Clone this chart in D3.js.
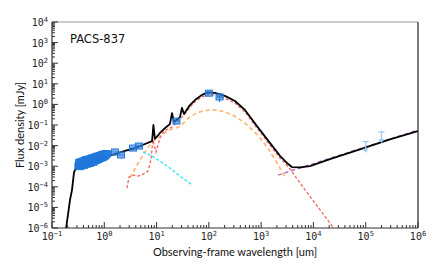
<!DOCTYPE html>
<html><head><meta charset="utf-8">
<script src="https://cdn.jsdelivr.net/npm/d3@7"></script>
<style>body{margin:0;background:#fff}svg{display:block}</style>
</head><body>
<script>
// ---- data (wavelength in um, flux density in mJy) ----
const totalLam = [0.185,0.202,0.221,0.241,0.264,0.288,0.314,0.428,0.664,1.03,1.6,2.49,3.87,6.0,8.2,8.7,9.3,11.6,14.5,18.0,19.7,21.5,28,30.6,33.4,43.5,56.6,73.8,96,131,203,316,490,830,1472,2290,3110,3880,5520,8570,20700,77400,290000,1000000];
const totalF   = [9e-7,4.3e-6,2.3e-5,6.9e-5,5.2e-4,8.1e-4,9.1e-4,1.28e-3,1.8e-3,2.8e-3,3.9e-3,5.5e-3,7.6e-3,0.012,0.0166,0.1,0.021,0.041,0.071,0.11,0.38,0.14,0.24,0.68,0.34,0.93,1.8,2.9,3.8,3.6,2.6,1.46,0.54,0.089,0.0135,3.2e-3,1.44e-3,9.1e-4,8.7e-4,1.0e-3,2.2e-3,6.5e-3,0.02,0.051];

const sfLam = [2.72,2.97,3.54,4.41,5.5,6.85,7.8,8.5,9.75,11.6,13.8,16.5,19.7,23.5,28,34.9,43.5,56.6,73.8,96,131,203,316,490,830,1472,2290,3560,6310,12200,23600,26900];
const sfF   = [8.7e-5,3.0e-4,3.7e-4,3.3e-4,4.1e-4,5.8e-4,2.0e-3,0.0186,4.9e-3,0.0234,0.051,0.064,0.080,0.125,0.195,0.34,0.74,1.46,2.3,3.0,2.9,2.0,1.17,0.43,0.071,0.0107,2.5e-3,7.3e-4,9.8e-5,1.05e-5,1.1e-6,7e-7];

const torusLam = [3.1,4.82,7.48,11.6,18.0,28,43.5,67.6,120,232,537,1290,2850];
const torusF   = [2.7e-4,2.0e-3,0.0107,0.0295,0.0575,0.089,0.245,0.43,0.54,0.38,0.1,0.0085,3.0e-4];

const diskLam = [5.5,7.48,11.6,18.0,28,47.5];
const diskF   = [4.9e-3,3.5e-3,1.8e-3,8.1e-4,3.3e-4,1.23e-4];

const radioLam = [2094,1000000];
const radioF   = [3.7e-4,0.057];

const photLam = [0.32,0.33,0.34,0.35,0.36,0.37,0.38,0.40,0.41,0.43,0.45,0.47,0.49,0.51,0.53,0.56,0.59,0.62,0.65,0.68,0.72,0.76,0.80,0.85,0.90,0.95,1.0,1.05,
                 0.33,0.35,0.37,0.39,0.42,0.44,0.46,0.50,0.54,0.58,0.63,0.67,0.71,0.75,0.82,0.88,0.93,0.98,1.08,
                 1.13,1.6,2.09,3.54,4.6,24,100,160];
const photF   = [1.0e-3,1.2e-3,0.95e-3,1.1e-3,1.3e-3,1.05e-3,1.2e-3,1.25e-3,1.1e-3,1.3e-3,1.4e-3,1.25e-3,1.45e-3,1.5e-3,1.35e-3,1.6e-3,1.7e-3,1.55e-3,1.8e-3,1.9e-3,2.0e-3,2.1e-3,2.3e-3,2.4e-3,2.6e-3,2.7e-3,3.0e-3,3.2e-3,
                 1.5e-3,1.6e-3,1.7e-3,1.75e-3,1.9e-3,2.0e-3,2.1e-3,2.2e-3,2.3e-3,2.5e-3,2.6e-3,2.8e-3,2.9e-3,3.1e-3,3.3e-3,3.5e-3,3.7e-3,3.9e-3,4.1e-3,
                 3.9e-3,4.9e-3,3.5e-3,7.6e-3,9.5e-3,0.155,3.5,2.3];
const photErr = photLam.map((v,i)=> i===photLam.length-1 ? 0.5 : 0);

const limLam = [1e5,2e5];
const limF   = [0.0155,0.046];
const limLow = [0.005,0.015];

const xTickExp = [-1,0,1,2,3,4,5,6];
const yTickExp = [-6,-5,-4,-3,-2,-1,0,1,2,3,4];
const title = "PACS-837";
const xLabel = "Observing-frame wavelength [um]";
const yLabel = "Flux density [mJy]";

// ---- layout ----
const W = 436, H = 273;
const L = 52, R = 418, T = 22, B = 228;
const svg = d3.select("body").append("svg").attr("width", W).attr("height", H);
const x = d3.scaleLog().domain([0.1, 1e6]).range([L, R]);
const y = d3.scaleLog().domain([1e-6, 1e4]).range([B, T]);

svg.append("clipPath").attr("id","clip").append("rect").attr("x",L).attr("y",T).attr("width",R-L).attr("height",B-T);
const g = svg.append("g").attr("clip-path","url(#clip)");

const zip = (a,b) => a.map((v,i)=>[v,b[i]]);
const line = d3.line().x(d=>x(d[0])).y(d=>y(d[1]));
const smooth = d3.line().x(d=>x(d[0])).y(d=>y(d[1])).curve(d3.curveMonotoneX);

g.append("path").datum(zip(radioLam,radioF)).attr("d",line).attr("fill","none").attr("stroke","#b575c8").attr("stroke-width",1.5).attr("stroke-dasharray","4,3");
g.append("path").datum(zip(torusLam,torusF)).attr("d",smooth).attr("fill","none").attr("stroke","#ffb97a").attr("stroke-width",1.8).attr("stroke-dasharray","4,3");
g.append("path").datum(zip(diskLam,diskF)).attr("d",line).attr("fill","none").attr("stroke","#3ee8f2").attr("stroke-width",1.5).attr("stroke-dasharray","3,2");
g.append("path").datum(zip(sfLam,sfF)).attr("d",line).attr("fill","none").attr("stroke","#f46262").attr("stroke-width",1.3).attr("stroke-dasharray","3,2");
g.append("path").datum(zip(totalLam,totalF)).attr("d",line).attr("fill","none").attr("stroke","#000").attr("stroke-width",1.8).attr("stroke-linejoin","round");

// photometry
const ph = g.append("g");
zip(photLam,photF).forEach((d,i)=>{
  const cx = x(d[0]), cy = y(d[1]);
  if (photErr[i]>0){
    ph.append("line").attr("x1",cx).attr("x2",cx).attr("y1",y(d[1]+photErr[i]*2)).attr("y2",y(d[1]-photErr[i]*2)).attr("stroke","#1f77d8").attr("stroke-width",1.2);
  }
  ph.append("rect").attr("x",cx-3.5).attr("y",cy-3).attr("width",7).attr("height",6)
    .attr("fill","rgba(40,128,225,0.6)").attr("stroke","#1f77d8").attr("stroke-width",1);
  ph.append("line").attr("x1",cx-3).attr("x2",cx+3).attr("y1",cy).attr("y2",cy).attr("stroke","#1f77d8").attr("stroke-width",0.8);
});
// upper limits
zip(limLam,limF).forEach((d,i)=>{
  const cx = x(d[0]), y1 = y(d[1]), y2 = y(limLow[i]);
  ph.append("line").attr("x1",cx).attr("x2",cx).attr("y1",y1).attr("y2",y2).attr("stroke","#9ccaf0").attr("stroke-width",1.3);
  ph.append("line").attr("x1",cx-3).attr("x2",cx+3).attr("y1",y1).attr("y2",y1).attr("stroke","#9ccaf0").attr("stroke-width",1.3);
  ph.append("path").attr("d",`M${cx-3},${y2-3}L${cx+3},${y2-3}L${cx},${y2+1}Z`).attr("fill","#9ccaf0");
});

// frame
svg.append("line").attr("x1",L).attr("x2",R).attr("y1",T).attr("y2",T).attr("stroke","#999").attr("stroke-width",1.2);
svg.append("line").attr("x1",R).attr("x2",R).attr("y1",T).attr("y2",B).attr("stroke","#333").attr("stroke-width",1.3);
svg.append("line").attr("x1",L).attr("x2",R).attr("y1",B).attr("y2",B).attr("stroke","#333").attr("stroke-width",1.2);
svg.append("line").attr("x1",L).attr("x2",L).attr("y1",T).attr("y2",B).attr("stroke","#333").attr("stroke-width",1.2);

// ticks
const minors = (exps) => { const a=[]; exps.slice(0,-1).forEach(e=>{for(let k=2;k<10;k++) a.push(k*Math.pow(10,e));}); return a; };
const xMaj = xTickExp.map(e=>Math.pow(10,e)), yMaj = yTickExp.map(e=>Math.pow(10,e));
const ax = svg.append("g").attr("stroke","#333").attr("stroke-width",1);
xMaj.forEach(v=>ax.append("line").attr("x1",x(v)).attr("x2",x(v)).attr("y1",B).attr("y2",B-6));
minors(xTickExp).forEach(v=>ax.append("line").attr("x1",x(v)).attr("x2",x(v)).attr("y1",B).attr("y2",B-3));
yMaj.forEach(v=>ax.append("line").attr("y1",y(v)).attr("y2",y(v)).attr("x1",L).attr("x2",L+6));
minors(yTickExp).forEach(v=>ax.append("line").attr("y1",y(v)).attr("y2",y(v)).attr("x1",L).attr("x2",L+3));

const mono = "DejaVu Sans Mono";
xTickExp.forEach(e=>{
  const t = svg.append("text").attr("x",x(Math.pow(10,e))).attr("y",B+12).attr("text-anchor","middle")
    .attr("font-family",mono).attr("font-size",10).attr("fill","#222");
  t.append("tspan").text("10");
  t.append("tspan").attr("dy",-4).attr("font-size",7).text(e<0?"\u2212"+(-e):e);
});
yTickExp.forEach(e=>{
  const t = svg.append("text").attr("x",L-4).attr("y",y(Math.pow(10,e))+4).attr("text-anchor","end")
    .attr("font-family",mono).attr("font-size",10).attr("fill","#222");
  t.append("tspan").text("10");
  t.append("tspan").attr("dy",-4).attr("font-size",7).text(e<0?"\u2212"+(-e):e);
});

svg.append("text").attr("x",70).attr("y",43).attr("font-family","DejaVu Sans").attr("font-size",11.5).attr("fill","#111").text(title);
svg.append("text").attr("x",(L+R)/2).attr("y",256).attr("text-anchor","middle").attr("font-family","Lato").attr("font-size",11).attr("fill","#111").text(xLabel);
svg.append("text").attr("transform",`translate(24,${(T+B)/2}) rotate(-90)`).attr("text-anchor","middle").attr("font-family","Lato").attr("font-size",11).attr("fill","#111").text(yLabel);
</script>
</body></html>
